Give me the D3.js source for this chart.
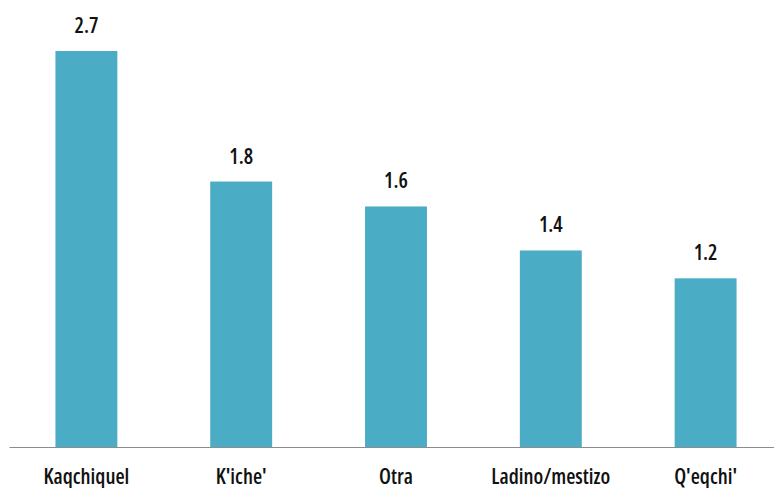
<!DOCTYPE html>
<html><head><meta charset="utf-8">
<script src="https://cdn.jsdelivr.net/npm/d3@7"></script>
<style>
html,body{margin:0;padding:0;background:#fff;}
svg text{font-family:"Open Sans",sans-serif;font-stretch:condensed;font-weight:600;}
</style></head>
<body>
<svg id="chart" width="774" height="488"></svg>
<script>
const categories = ["Kaqchiquel", "K'iche'", "Otra", "Ladino/mestizo", "Q'eqchi'"];
const values = [2.7, 1.81, 1.64, 1.34, 1.15];
const valueLabels = ["2.7", "1.8", "1.6", "1.4", "1.2"];

const svg = d3.select("#chart");
const baseY = 447;
const x = d3.scaleBand().domain(categories).range([9, 783]).paddingInner(0.6).paddingOuter(0.3);
const y = d3.scaleLinear().domain([0, 2.7]).range([baseY, 51]);

svg.selectAll("rect.bar").data(values).join("rect")
  .attr("class", "bar")
  .attr("x", (d, i) => x(categories[i]))
  .attr("width", x.bandwidth())
  .attr("y", d => y(d))
  .attr("height", d => baseY - y(d))
  .attr("fill", "#4BACC6");

svg.selectAll("text.val").data(values).join("text")
  .attr("class", "val")
  .attr("x", (d, i) => x(categories[i]) + x.bandwidth() / 2)
  .attr("y", d => y(d) - 18)
  .attr("text-anchor", "middle")
  .attr("font-size", 21)
  .attr("fill", "#111")
  .text((d, i) => valueLabels[i]);

const axis = svg.append("g").attr("transform", `translate(0,${baseY})`)
  .call(d3.axisBottom(x).tickSize(0).tickPadding(22));
axis.select(".domain").attr("stroke", "#8c8c8c").attr("stroke-width", 1.2);
axis.selectAll("text").attr("font-size", 21).attr("fill", "#111")
  .attr("font-family", null);
</script>
</body></html>
